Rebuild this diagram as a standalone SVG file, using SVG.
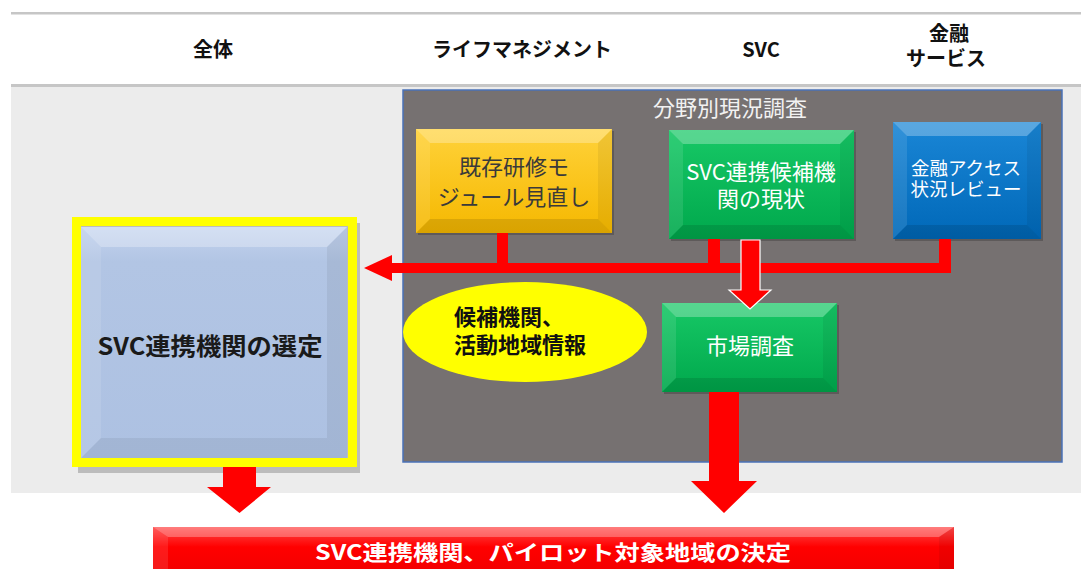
<svg xmlns="http://www.w3.org/2000/svg" width="1081" height="569" viewBox="0 0 1081 569">
<defs>
<style>
text{font-family:"Noto Sans CJK JP","Noto Sans",sans-serif;}
.hdr{font-size:20px;font-weight:bold;fill:#111;text-anchor:middle;}
.lbl{font-size:22px;text-anchor:middle;}
.w{fill:#ffffff;}
.hl{fill:#ffffff;opacity:.28;}
.hs{fill:#ffffff;opacity:.1;}
.ds{fill:#000000;opacity:.06;}
.db{fill:#000000;opacity:.11;}
.shadow{fill:#000;opacity:.2;}
.red{fill:#ff0000;}
</style>
<linearGradient id="gY" x1="0" y1="0" x2="0" y2="1"><stop offset="0" stop-color="#ffd23a"/><stop offset="1" stop-color="#f5b800"/></linearGradient>
<linearGradient id="gG" x1="0" y1="0" x2="0" y2="1"><stop offset="0" stop-color="#17c866"/><stop offset="1" stop-color="#00a84c"/></linearGradient>
<linearGradient id="gB" x1="0" y1="0" x2="0" y2="1"><stop offset="0" stop-color="#1a86d6"/><stop offset="1" stop-color="#0068b8"/></linearGradient>
<linearGradient id="gL" x1="0" y1="0" x2="0" y2="1"><stop offset="0" stop-color="#c3d3ee"/><stop offset="0.15" stop-color="#b2c5e4"/><stop offset="1" stop-color="#adc1e2"/></linearGradient>
<linearGradient id="gR" x1="0" y1="0" x2="0" y2="1"><stop offset="0" stop-color="#ff4a4a"/><stop offset="0.4" stop-color="#ff0000"/><stop offset="1" stop-color="#f00000"/></linearGradient>
</defs>

<rect x="0" y="0" width="1081" height="569" fill="#ffffff"/>
<rect x="11" y="12" width="1070" height="2.5" fill="#c6c6c6"/>
<rect x="11" y="84" width="1070" height="3" fill="#c6c6c6"/>
<rect x="11" y="87" width="1070" height="406" fill="#ececec"/>

<g id="headers">
<text class="hdr" x="213" y="57">全体</text>
<text class="hdr" x="522" y="57">ライフマネジメント</text>
<text class="hdr" x="761" y="57">SVC</text>
<text class="hdr"><tspan x="949" y="41">金融</tspan><tspan x="946" y="66">サービス</tspan></text>
</g>

<g id="panel">
<rect x="403" y="90" width="659" height="372" fill="#767171" stroke="#4a72b8" stroke-width="1.5"/>
<text class="lbl" x="730" y="116" fill="#f2f2f2">分野別現況調査</text>
</g>

<g id="node-yellow">
<rect class="shadow" x="418" y="131" width="196" height="104"/>
<rect x="416" y="129" width="196" height="104" fill="url(#gY)"/>
<polygon class="hl" points="416,129 612,129 598,143 430,143"/>
<polygon class="hs" points="416,129 430,143 430,219 416,233"/>
<polygon class="ds" points="612,129 598,143 598,219 612,233"/>
<polygon class="db" points="416,233 612,233 598,219 430,219"/>
<text class="lbl" fill="#3a3a3a"><tspan x="514" y="175">既存研修モ</tspan><tspan x="514" y="205">ジュール見直し</tspan></text>
</g>

<g id="node-green">
<rect class="shadow" x="671" y="132" width="185" height="109"/>
<rect x="669" y="130" width="185" height="109" fill="url(#gG)"/>
<polygon class="hl" points="669,130 854,130 840,144 683,144"/>
<polygon class="hs" points="669,130 683,144 683,225 669,239"/>
<polygon class="ds" points="854,130 840,144 840,225 854,239"/>
<polygon class="db" points="669,239 854,239 840,225 683,225"/>
<text class="lbl w"><tspan x="761" y="180">SVC連携候補機</tspan><tspan x="761" y="207">関の現状</tspan></text>
</g>

<g id="node-blue">
<rect class="shadow" x="895" y="124" width="148" height="117"/>
<rect x="893" y="122" width="148" height="117" fill="url(#gB)"/>
<polygon class="hl" points="893,122 1041,122 1027,136 907,136"/>
<polygon class="hs" points="893,122 907,136 907,225 893,239"/>
<polygon class="ds" points="1041,122 1027,136 1027,225 1041,239"/>
<polygon class="db" points="893,239 1041,239 1027,225 907,225"/>
<text class="w" font-size="18.5" text-anchor="middle"><tspan x="966" y="175">金融アクセス</tspan><tspan x="966" y="196">状況レビュー</tspan></text>
</g>

<g id="node-market">
<rect class="shadow" x="664" y="305" width="175" height="89"/>
<rect x="662" y="303" width="175" height="89" fill="url(#gG)"/>
<polygon class="hl" points="662,303 837,303 823,317 676,317"/>
<polygon class="hs" points="662,303 676,317 676,378 662,392"/>
<polygon class="ds" points="837,303 823,317 823,378 837,392"/>
<polygon class="db" points="662,392 837,392 823,378 676,378"/>
<text class="lbl w" x="750" y="354">市場調査</text>
</g>

<g id="node-info">
<ellipse cx="525" cy="332" rx="122" ry="50" fill="#ffff00"/>
<text font-size="22" font-weight="bold" fill="#111"><tspan x="454" y="325">候補機関、</tspan><tspan x="454" y="353">活動地域情報</tspan></text>
</g>

<g id="node-select">
<rect class="shadow" x="78" y="223" width="282" height="250"/>
<rect x="81" y="227" width="266" height="231" fill="url(#gL)"/>
<polygon class="hl" points="81,227 347,227 327,247 101,247"/>
<polygon class="hs" points="81,227 101,247 101,438 81,458"/>
<polygon class="ds" points="347,227 327,247 327,438 347,458"/>
<polygon class="ds" points="81,458 347,458 327,438 101,438"/>
<rect x="76.5" y="221.5" width="276" height="241" fill="none" stroke="#ffff00" stroke-width="9"/>
<text x="210" y="355" font-size="24" font-weight="bold" fill="#1a1a1a" text-anchor="middle" textLength="225" lengthAdjust="spacingAndGlyphs">SVC連携機関の選定</text>
</g>

<g id="connectors">
<rect class="red" x="497" y="233" width="11" height="36"/>
<rect class="red" x="708" y="239" width="12" height="34"/>
<rect class="red" x="939" y="239" width="12" height="34"/>
<rect class="red" x="390" y="263" width="561" height="10"/>
<polygon class="red" points="392,255 364,268 392,281"/>
<polygon class="red" points="741,240 760,240 760,290 771,290 750,309 729,290 741,290" stroke="#ffffff" stroke-width="1.2"/>
<polygon class="red" points="709,392 739,392 739,481 757,481 724,513 691,481 709,481"/>
<polygon class="red" points="223,467 256,467 256,487 271,487 239.5,513 207,487 223,487"/>
</g>

<g id="node-result">
<rect x="153" y="527" width="801" height="50" fill="url(#gR)"/>
<polygon class="hl" points="153,527 954,527 939,537 168,537"/>
<polygon class="hs" points="153,527 168,537 168,569 153,569"/>
<polygon class="ds" points="954,527 939,537 939,569 954,569"/>
<text x="553" y="560" font-size="21" font-weight="bold" fill="#ffffff" text-anchor="middle" textLength="476" lengthAdjust="spacingAndGlyphs">SVC連携機関、パイロット対象地域の決定</text>
</g>
</svg>
